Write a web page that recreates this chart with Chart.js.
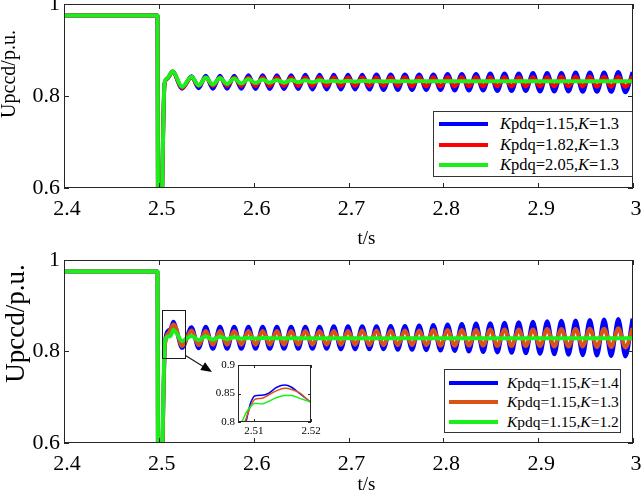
<!DOCTYPE html>
<html><head><meta charset="utf-8">
<script src="https://cdn.jsdelivr.net/npm/chart.js@4.4.0/dist/chart.umd.min.js"></script>
<style>
html,body{margin:0;padding:0;background:#fff;}
#wrap{position:relative;width:641px;height:496px;overflow:hidden;font-family:"Liberation Serif","Times New Roman",serif;background:#fff;}
canvas{position:absolute;}
.legend{position:absolute;background:#fff;border:1px solid #333;box-sizing:border-box;}
.sw{position:absolute;height:4px;}
.lt{position:absolute;white-space:nowrap;line-height:1;color:#000;}
</style></head><body>
<div id="wrap">
<canvas id="cTop" width="641" height="250" style="left:0;top:0"></canvas>
<canvas id="cBottom" width="641" height="246" style="left:0;top:250px"></canvas>
<canvas id="cInset" width="130" height="86" style="left:196px;top:356px"></canvas>
<div class="legend" id="legTop" style="left:433px;top:111px;width:200px;height:66px"></div>
<div class="legend" id="legBottom" style="left:444px;top:369px;width:177px;height:64px"></div>
</div>
<script>
// ---------- data ----------
const xTicks = [2.4, 2.5, 2.6, 2.7, 2.8, 2.9, 3];
const yTicks = [0.6, 0.8, 1];
const insetXTicks = [2.51, 2.52];
const insetYTicks = [0.8, 0.85, 0.9];

const timeStart = [2.4, 2.4985, 2.4995, 2.5005];
const valueStart = [0.975, 0.975, 0.3, 0.3];
const timeRiseTop = [2.506, 2.509, 2.5145];
const timeRiseBottom = [2.5065, 2.5102, 2.5125, 2.5154, 2.518];
const timeOsc = [2.5245, 2.5345, 2.542, 2.5495, 2.557, 2.5645, 2.572, 2.5795, 2.587, 2.5945, 2.602,
  2.6095, 2.617, 2.6245, 2.632, 2.6395, 2.647, 2.6545, 2.662, 2.6695, 2.677,
  2.6845, 2.692, 2.6995, 2.707, 2.7145, 2.722, 2.7295, 2.737, 2.7445, 2.752,
  2.7595, 2.767, 2.7745, 2.782, 2.7895, 2.797, 2.8045, 2.812, 2.8195, 2.827,
  2.8345, 2.842, 2.8495, 2.857, 2.8645, 2.872, 2.8795, 2.887, 2.8945, 2.902,
  2.9095, 2.917, 2.9245, 2.932, 2.9395, 2.947, 2.9545, 2.962, 2.9695, 2.977,
  2.9845, 2.992, 2.9995];

// top panel (Kpdq varies, K = 1.3)
const topLabelsKpdq = ['1.15', '1.82', '2.05'];
const topLabelsK = ['1.3', '1.3', '1.3'];
const topBlueRise = [0.826, 0.838, 0.853];
const topRedRise = [0.826, 0.838, 0.853];
const topGreenRise = [0.828, 0.839, 0.854];
const topBlueOsc = [0.816, 0.843,0.817, 0.844,0.816, 0.844,0.816, 0.844,0.816, 0.845,0.815,
  0.845,0.815, 0.845,0.815, 0.845,0.815, 0.846,0.814, 0.846,0.814,
  0.846,0.814, 0.846,0.814, 0.846,0.814, 0.847,0.813, 0.847,0.813,
  0.847,0.813, 0.847,0.813, 0.847,0.813, 0.848,0.812, 0.848,0.812,
  0.848,0.812, 0.849,0.811, 0.849,0.811, 0.849,0.811, 0.850,0.810,
  0.850,0.810, 0.850,0.810, 0.851,0.809, 0.851,0.809, 0.851,0.809,
  0.852,0.808, 0.852];
const topRedOsc = [0.818, 0.840,0.822, 0.840,0.822, 0.840,0.822, 0.840,0.822, 0.840,0.822,
  0.840,0.822, 0.840,0.822, 0.840,0.822, 0.840,0.822, 0.840,0.822,
  0.840,0.822, 0.840,0.822, 0.840,0.822, 0.840,0.822, 0.841,0.822,
  0.841,0.821, 0.841,0.821, 0.841,0.821, 0.841,0.821, 0.841,0.821,
  0.841,0.821, 0.841,0.821, 0.841,0.821, 0.841,0.821, 0.841,0.821,
  0.841,0.821, 0.842,0.821, 0.842,0.821, 0.842,0.820, 0.842,0.820,
  0.842,0.820, 0.842];
const topGreenOsc = [0.820, 0.842,0.823, 0.840,0.825, 0.839,0.826, 0.838,0.827, 0.837,0.828,
  0.836,0.829, 0.835,0.829, 0.835,0.830, 0.834,0.830, 0.834,0.831,
  0.833,0.831, 0.833,0.831, 0.833,0.832, 0.8325,0.8315, 0.8325,0.8315,
  0.8325,0.8315, 0.8325,0.832, 0.832,0.832, 0.832,0.832, 0.832,0.832,
  0.832,0.832, 0.832,0.832, 0.832,0.832, 0.832,0.832, 0.832,0.832,
  0.832,0.832, 0.832,0.832, 0.832,0.832, 0.832,0.832, 0.832,0.832,
  0.832,0.832, 0.832];

// bottom panel (Kpdq = 1.15, K varies)
const bottomLabelsKpdq = ['1.15', '1.15', '1.15'];
const bottomLabelsK = ['1.4', '1.3', '1.2'];
const bottomBlueRise = [0.818, 0.846, 0.850, 0.865, 0.852];
const bottomOrangeRise = [0.815, 0.840, 0.849, 0.859, 0.852];
const bottomGreenRise = [0.825, 0.833, 0.8345, 0.847, 0.842];
const bottomBlueOsc = [0.808, 0.853,0.807, 0.854,0.806, 0.854,0.806, 0.854,0.806, 0.854,0.806,
  0.854,0.806, 0.854,0.806, 0.854,0.806, 0.854,0.806, 0.854,0.806,
  0.855,0.805, 0.855,0.805, 0.855,0.805, 0.855,0.805, 0.856,0.804,
  0.856,0.804, 0.857,0.803, 0.858,0.802, 0.859,0.801, 0.860,0.800,
  0.861,0.799, 0.862,0.798, 0.863,0.797, 0.864,0.796, 0.865,0.795,
  0.866,0.794, 0.867,0.793, 0.868,0.792, 0.869,0.791, 0.870,0.790,
  0.871,0.789, 0.872];
const bottomOrangeOsc = [0.812, 0.846,0.814, 0.845,0.815, 0.845,0.815, 0.845,0.815, 0.845,0.815,
  0.845,0.815, 0.845,0.815, 0.845,0.815, 0.845,0.815, 0.845,0.815,
  0.845,0.815, 0.845,0.815, 0.846,0.814, 0.846,0.814, 0.846,0.814,
  0.846,0.814, 0.846,0.814, 0.847,0.813, 0.847,0.813, 0.847,0.813,
  0.847,0.813, 0.848,0.812, 0.848,0.812, 0.848,0.812, 0.848,0.812,
  0.849,0.811, 0.849,0.811, 0.849,0.811, 0.850,0.810, 0.850,0.810,
  0.851,0.809, 0.851];
const bottomGreenOsc = [0.823, 0.834,0.825, 0.833,0.826, 0.832,0.827, 0.831,0.828, 0.830,0.8285,
  0.8295,0.829, 0.829,0.829, 0.829,0.829, 0.829,0.829, 0.829,0.829,
  0.829,0.829, 0.829,0.829, 0.829,0.829, 0.829,0.829, 0.829,0.829,
  0.829,0.829, 0.829,0.829, 0.829,0.829, 0.829,0.829, 0.829,0.829,
  0.829,0.829, 0.829,0.829, 0.829,0.829, 0.829,0.829, 0.829,0.829,
  0.829,0.829, 0.829,0.829, 0.829,0.829, 0.829,0.829, 0.829,0.829,
  0.829,0.829, 0.829];

// inset (zoom of bottom panel around the first peak)
const insetTime = [2.5075, 2.508, 2.5086, 2.5093, 2.5102, 2.5114, 2.5125, 2.514, 2.5154, 2.5166, 2.518, 2.5198, 2.521];
const insetBlue = [0.76, 0.78, 0.800, 0.830, 0.846, 0.847, 0.850, 0.861, 0.865, 0.861, 0.850, 0.836, 0.826];
const insetOrange = [0.76, 0.785, 0.805, 0.825, 0.840, 0.8415, 0.847, 0.855, 0.859, 0.857, 0.851, 0.8357, 0.828];
const insetGreen = [0.795, 0.803, 0.816, 0.826, 0.833, 0.8315, 0.836, 0.843, 0.8465, 0.8465, 0.8415, 0.8357, 0.832];
const zoomBoxTime = [2.5035, 2.5278];
const zoomBoxValue = [0.786, 0.891];

// ---------- helpers ----------
const FONT = "'Liberation Serif', 'Times New Roman', serif";
Chart.defaults.font.family = FONT;
function pts(ts, vs) { return ts.map((t, i) => ({ x: t, y: vs[i] })); }
const topTime = [...timeStart, ...timeRiseTop, ...timeOsc];
const bottomTime = [...timeStart, ...timeRiseBottom, ...timeOsc];

const BLUE = '#0000ff', RED = '#ff0000', GREEN = '#19f019', ORANGE = '#d95319';

function ds(label, color, data, order, width) {
  return { label, data, borderColor: color, backgroundColor: color, borderWidth: width,
    pointRadius: 0, fill: false, cubicInterpolationMode: 'monotone', order, clip: 0 };
}
function legendText(kpdq, k) { return 'Kpdq=' + kpdq + ',K=' + k; }

const frame = {
  id: 'frame',
  beforeDatasetsDraw(chart, args, opts) {
    if (!opts.fill) return;
    const { ctx, chartArea: a } = chart;
    ctx.save(); ctx.fillStyle = '#fff';
    ctx.fillRect(a.left, a.top, a.right - a.left, a.bottom - a.top); ctx.restore();
  },
  afterDatasetsDraw(chart, args, opts) {
    const { ctx, chartArea: a, scales: { x, y } } = chart;
    const L = opts.len || 5;
    ctx.save();
    ctx.strokeStyle = '#262626'; ctx.lineWidth = 1;
    ctx.strokeRect(a.left + 0.5, a.top + 0.5, a.right - a.left - 1, a.bottom - a.top - 1);
    ctx.beginPath();
    x.ticks.forEach(t => {
      const p = Math.round(x.getPixelForValue(t.value)) + 0.5;
      ctx.moveTo(p, a.bottom); ctx.lineTo(p, a.bottom - L);
      ctx.moveTo(p, a.top); ctx.lineTo(p, a.top + L);
    });
    y.ticks.forEach(t => {
      const p = Math.round(y.getPixelForValue(t.value)) + 0.5;
      ctx.moveTo(a.left, p); ctx.lineTo(a.left + L, p);
      ctx.moveTo(a.right, p); ctx.lineTo(a.right - L, p);
    });
    ctx.stroke();
    ctx.restore();
  }
};

// shift a scale's title drawing by (dx, dy) pixels (keeps the library's own title text)
function shiftTitle(s, dx, dy) {
  if (s._titleShifted || (!dx && !dy)) return;
  const orig = s.drawTitle.bind(s);
  s.drawTitle = function () { this.ctx.save(); this.ctx.translate(dx, dy); orig(); this.ctx.restore(); };
  s._titleShifted = true;
}

function scales(o) {
  return {
    x: {
      type: 'linear', min: o.xmin, max: o.xmax,
      afterBuildTicks: s => { s.ticks = o.xt.map(v => ({ value: v })); },
      afterFit: s => { s.height = o.xh; s.paddingLeft = 0; s.paddingRight = 0; shiftTitle(s, o.xtdx || 0, 0); },
      grid: { display: false, drawTicks: false }, border: { display: false },
      ticks: { font: { family: FONT, size: o.fs, lineHeight: 1.2 }, color: '#000', padding: o.xpad,
        maxRotation: 0, autoSkip: false, labelOffset: o.lo || 0, callback: v => String(v) },
      title: { display: !!o.xtitle, text: o.xtitle, font: { family: FONT, size: o.xts, lineHeight: 1.2 }, color: '#000', padding: 0 }
    },
    y: {
      type: 'linear', min: o.ymin, max: o.ymax,
      afterBuildTicks: s => { s.ticks = o.yt.map(v => ({ value: v })); },
      afterFit: s => { s.width = o.yw; s.paddingTop = 0; s.paddingBottom = 0; shiftTitle(s, o.ytdx || 0, o.ytdy || 0); },
      grid: { display: false, drawTicks: false }, border: { display: false },
      ticks: { font: { family: FONT, size: o.fs, lineHeight: 1.2 }, color: '#000', padding: o.ypad,
        autoSkip: false, callback: v => String(v) },
      title: { display: !!o.ytitle, text: o.ytitle, font: { family: FONT, size: o.yts, lineHeight: 1.2 }, color: '#000', padding: 0 }
    }
  };
}
const base = { responsive: false, animation: false, devicePixelRatio: 1, events: [] };

// ---------- top chart ----------
new Chart(document.getElementById('cTop'), {
  type: 'line',
  data: { datasets: [
    ds(legendText(topLabelsKpdq[0], topLabelsK[0]), BLUE, pts(topTime, [...valueStart, ...topBlueRise, ...topBlueOsc]), 2, 4),
    ds(legendText(topLabelsKpdq[1], topLabelsK[1]), RED, pts(topTime, [...valueStart, ...topRedRise, ...topRedOsc]), 1, 4),
    ds(legendText(topLabelsKpdq[2], topLabelsK[2]), GREEN, pts(topTime, [...valueStart, ...topGreenRise, ...topGreenOsc]), 0, 4)
  ] },
  options: { ...base,
    layout: { padding: { left: 0, right: 8, top: 4, bottom: 0 } },
    scales: scales({ xmin: 2.4, xmax: 3, ymin: 0.6, ymax: 1, xt: xTicks, yt: yTicks, xh: 62, yw: 64,
      fs: 22, xts: 19, yts: 20, xpad: 8, ypad: 4, lo: 3, xtitle: 't/s', ytitle: 'Upccd/p.u.',
      xtdx: 18, ytdx: -2, ytdy: -22 }),
    plugins: { legend: { display: false }, tooltip: { enabled: false }, frame: { len: 5 } }
  },
  plugins: [frame]
});

// ---------- bottom chart ----------
const zoomBox = {
  id: 'zoomBox',
  afterDatasetsDraw(chart) {
    const { ctx, scales: { x, y } } = chart;
    const x0 = Math.round(x.getPixelForValue(zoomBoxTime[0])) + 0.5;
    const x1 = Math.round(x.getPixelForValue(zoomBoxTime[1])) + 0.5;
    const y0 = Math.round(y.getPixelForValue(zoomBoxValue[1])) + 0.5;
    const y1 = Math.round(y.getPixelForValue(zoomBoxValue[0])) + 0.5;
    ctx.save();
    ctx.strokeStyle = '#1a1a1a'; ctx.lineWidth = 1;
    ctx.strokeRect(x0, y0, x1 - x0, y1 - y0);
    const ax = x1, ay = y1 - 3, bx = 212, by = 122;
    const ang = Math.atan2(by - ay, bx - ax);
    ctx.beginPath(); ctx.moveTo(ax, ay); ctx.lineTo(bx - 8 * Math.cos(ang), by - 8 * Math.sin(ang));
    ctx.lineWidth = 1.2; ctx.stroke();
    ctx.beginPath();
    ctx.moveTo(bx, by);
    ctx.lineTo(bx - 11 * Math.cos(ang) + 4.5 * Math.sin(ang), by - 11 * Math.sin(ang) - 4.5 * Math.cos(ang));
    ctx.lineTo(bx - 11 * Math.cos(ang) - 4.5 * Math.sin(ang), by - 11 * Math.sin(ang) + 4.5 * Math.cos(ang));
    ctx.closePath(); ctx.fillStyle = '#000'; ctx.fill();
    ctx.restore();
  }
};
new Chart(document.getElementById('cBottom'), {
  type: 'line',
  data: { datasets: [
    ds(legendText(bottomLabelsKpdq[0], bottomLabelsK[0]), BLUE, pts(bottomTime, [...valueStart, ...bottomBlueRise, ...bottomBlueOsc]), 2, 4),
    ds(legendText(bottomLabelsKpdq[1], bottomLabelsK[1]), ORANGE, pts(bottomTime, [...valueStart, ...bottomOrangeRise, ...bottomOrangeOsc]), 1, 4),
    ds(legendText(bottomLabelsKpdq[2], bottomLabelsK[2]), GREEN, pts(bottomTime, [...valueStart, ...bottomGreenRise, ...bottomGreenOsc]), 0, 4)
  ] },
  options: { ...base,
    layout: { padding: { left: 0, right: 8, top: 10, bottom: 0 } },
    scales: scales({ xmin: 2.4, xmax: 3, ymin: 0.6, ymax: 1, xt: xTicks, yt: yTicks, xh: 53, yw: 64,
      fs: 22, xts: 19, yts: 27, xpad: 8, ypad: 4, lo: 3, xtitle: 't/s', ytitle: 'Upccd/p.u.',
      xtdx: 18, ytdx: 1, ytdy: -28 }),
    plugins: { legend: { display: false }, tooltip: { enabled: false }, frame: { len: 5 } }
  },
  plugins: [frame, zoomBox]
});

// ---------- inset chart ----------
new Chart(document.getElementById('cInset'), {
  type: 'line',
  data: { datasets: [
    ds(legendText(bottomLabelsKpdq[0], bottomLabelsK[0]), BLUE, pts(insetTime, insetBlue), 2, 1.5),
    ds(legendText(bottomLabelsKpdq[1], bottomLabelsK[1]), ORANGE, pts(insetTime, insetOrange), 1, 1.5),
    ds(legendText(bottomLabelsKpdq[2], bottomLabelsK[2]), GREEN, pts(insetTime, insetGreen), 0, 1.5)
  ] },
  options: { ...base,
    layout: { padding: { left: 0, right: 15, top: 9, bottom: 0 } },
    scales: scales({ xmin: 2.5072, xmax: 2.52, ymin: 0.8, ymax: 0.9, xt: insetXTicks, yt: insetYTicks, xh: 20, yw: 42,
      fs: 11, xts: 11, yts: 11, xpad: 3, ypad: 3, lo: 0 }),
    plugins: { legend: { display: false }, tooltip: { enabled: false }, frame: { len: 3, fill: true } }
  },
  plugins: [frame]
});

// ---------- legends (HTML, italic K) ----------
function buildLegend(el, colors, kpdq, k, rows, swLeft, txtLeft, fs) {
  colors.forEach((c, i) => {
    const sw = document.createElement('div');
    sw.className = 'sw';
    sw.style.cssText = `left:${swLeft}px;top:${rows[i] - 2}px;width:49px;background:${c}`;
    el.appendChild(sw);
    const t = document.createElement('div');
    t.className = 'lt';
    t.style.cssText = `left:${txtLeft}px;top:${rows[i] - fs / 2}px;font-size:${fs}px`;
    t.innerHTML = `<i>K</i>pdq=${kpdq[i]},<i>K</i>=${k[i]}`;
    el.appendChild(t);
  });
}
buildLegend(document.getElementById('legTop'), [BLUE, RED, GREEN], topLabelsKpdq, topLabelsK, [12, 33, 53], 5, 66, 16.5);
buildLegend(document.getElementById('legBottom'), [BLUE, ORANGE, GREEN], bottomLabelsKpdq, bottomLabelsK, [12.5, 32, 52], 4, 62, 15.5);
</script>
</body></html>
